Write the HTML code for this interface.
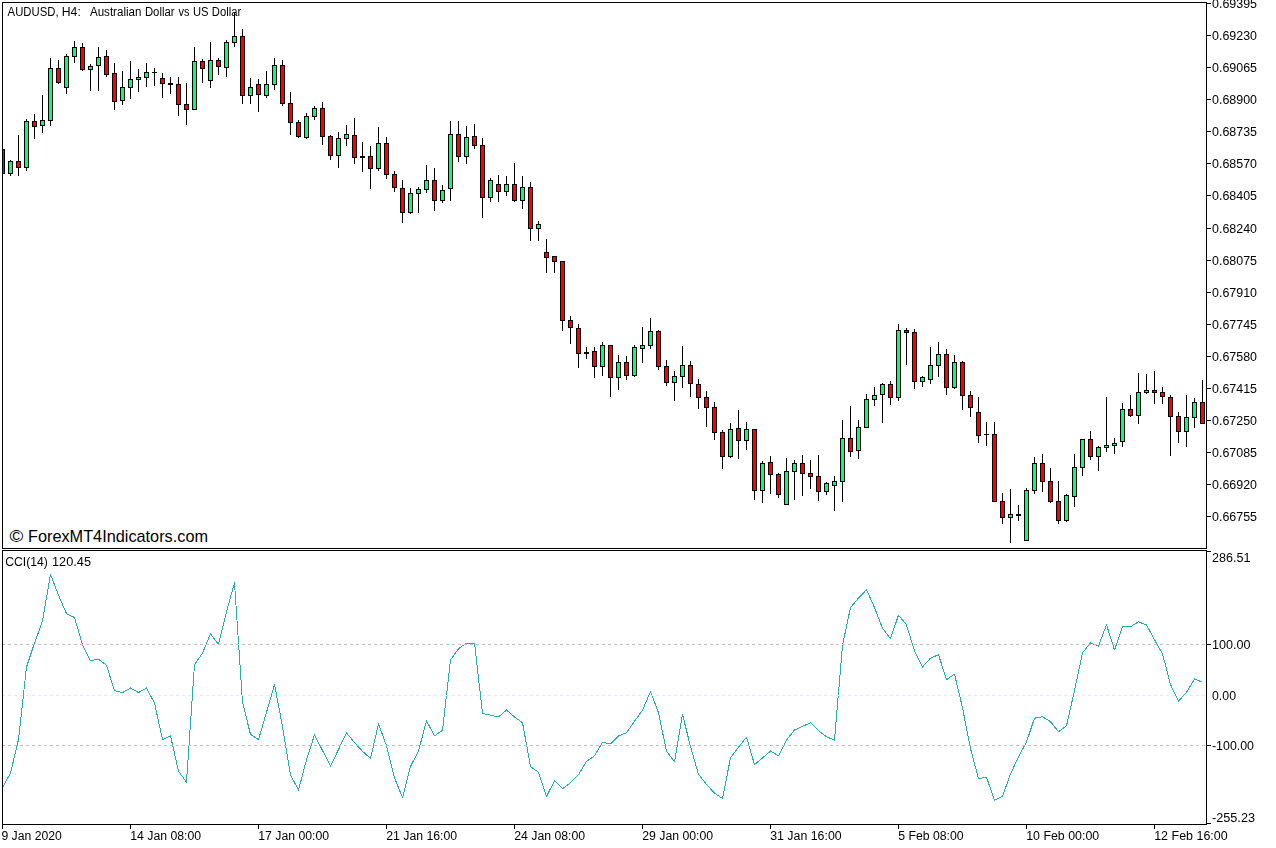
<!DOCTYPE html>
<html><head><meta charset="utf-8"><title>AUDUSD H4 - CCI</title>
<style>
html,body{margin:0;padding:0;background:#fff;overflow:hidden;}
svg{display:block;}
text{font-family:"Liberation Sans",Arial,sans-serif;fill:#000;}
.t{font-size:12px;}
.w{font-size:16.4px;}
</style></head><body>
<svg width="1276" height="848" viewBox="0 0 1276 848">
<rect width="1276" height="848" fill="#fff"/>
<g shape-rendering="crispEdges">
<rect x="2" y="149" width="1" height="24" fill="#000"/><rect x="0" y="149" width="5" height="25" fill="#000"/><rect x="1" y="150" width="3" height="23" fill="#ff0000"/>
<rect x="10" y="160" width="1" height="16" fill="#000"/><rect x="8" y="161" width="5" height="13" fill="#000"/><rect x="9" y="162" width="3" height="11" fill="#00ff7f"/>
<rect x="18" y="135" width="1" height="41" fill="#000"/><rect x="16" y="161" width="5" height="7" fill="#000"/><rect x="17" y="162" width="3" height="5" fill="#ff0000"/>
<rect x="26" y="119" width="1" height="52" fill="#000"/><rect x="24" y="121" width="5" height="47" fill="#000"/><rect x="25" y="122" width="3" height="45" fill="#00ff7f"/>
<rect x="34" y="114" width="1" height="25" fill="#000"/><rect x="32" y="121" width="5" height="6" fill="#000"/><rect x="33" y="122" width="3" height="4" fill="#ff0000"/>
<rect x="42" y="95" width="1" height="38" fill="#000"/><rect x="40" y="120" width="5" height="6" fill="#000"/><rect x="41" y="121" width="3" height="4" fill="#00ff7f"/>
<rect x="50" y="58" width="1" height="68" fill="#000"/><rect x="48" y="68" width="5" height="53" fill="#000"/><rect x="49" y="69" width="3" height="51" fill="#00ff7f"/>
<rect x="58" y="60" width="1" height="24" fill="#000"/><rect x="56" y="68" width="5" height="15" fill="#000"/><rect x="57" y="69" width="3" height="13" fill="#ff0000"/>
<rect x="66" y="54" width="1" height="40" fill="#000"/><rect x="64" y="56" width="5" height="32" fill="#000"/><rect x="65" y="57" width="3" height="30" fill="#00ff7f"/>
<rect x="74" y="41" width="1" height="22" fill="#000"/><rect x="72" y="47" width="5" height="10" fill="#000"/><rect x="73" y="48" width="3" height="8" fill="#00ff7f"/>
<rect x="82" y="43" width="1" height="28" fill="#000"/><rect x="80" y="47" width="5" height="23" fill="#000"/><rect x="81" y="48" width="3" height="21" fill="#ff0000"/>
<rect x="90" y="64" width="1" height="27" fill="#000"/><rect x="88" y="66" width="5" height="4" fill="#000"/><rect x="89" y="67" width="3" height="2" fill="#00ff7f"/>
<rect x="98" y="47" width="1" height="44" fill="#000"/><rect x="96" y="57" width="5" height="9" fill="#000"/><rect x="97" y="58" width="3" height="7" fill="#00ff7f"/>
<rect x="106" y="50" width="1" height="27" fill="#000"/><rect x="104" y="56" width="5" height="19" fill="#000"/><rect x="105" y="57" width="3" height="17" fill="#ff0000"/>
<rect x="114" y="63" width="1" height="47" fill="#000"/><rect x="112" y="73" width="5" height="29" fill="#000"/><rect x="113" y="74" width="3" height="27" fill="#ff0000"/>
<rect x="122" y="71" width="1" height="34" fill="#000"/><rect x="120" y="87" width="5" height="14" fill="#000"/><rect x="121" y="88" width="3" height="12" fill="#00ff7f"/>
<rect x="130" y="61" width="1" height="38" fill="#000"/><rect x="128" y="79" width="5" height="9" fill="#000"/><rect x="129" y="80" width="3" height="7" fill="#00ff7f"/>
<rect x="138" y="69" width="1" height="23" fill="#000"/><rect x="136" y="77" width="5" height="3" fill="#000"/><rect x="137" y="78" width="3" height="1" fill="#00ff7f"/>
<rect x="146" y="63" width="1" height="24" fill="#000"/><rect x="144" y="72" width="5" height="6" fill="#000"/><rect x="145" y="73" width="3" height="4" fill="#00ff7f"/>
<rect x="154" y="68" width="1" height="18" fill="#000"/><rect x="152" y="72" width="5" height="1" fill="#000"/>
<rect x="162" y="73" width="1" height="25" fill="#000"/><rect x="160" y="78" width="5" height="6" fill="#000"/><rect x="161" y="79" width="3" height="4" fill="#ff0000"/>
<rect x="170" y="77" width="1" height="17" fill="#000"/><rect x="168" y="83" width="5" height="2" fill="#000"/>
<rect x="178" y="77" width="1" height="39" fill="#000"/><rect x="176" y="84" width="5" height="21" fill="#000"/><rect x="177" y="85" width="3" height="19" fill="#ff0000"/>
<rect x="186" y="83" width="1" height="42" fill="#000"/><rect x="184" y="104" width="5" height="6" fill="#000"/><rect x="185" y="105" width="3" height="4" fill="#ff0000"/>
<rect x="194" y="47" width="1" height="63" fill="#000"/><rect x="192" y="61" width="5" height="49" fill="#000"/><rect x="193" y="62" width="3" height="47" fill="#00ff7f"/>
<rect x="202" y="59" width="1" height="24" fill="#000"/><rect x="200" y="61" width="5" height="8" fill="#000"/><rect x="201" y="62" width="3" height="6" fill="#ff0000"/>
<rect x="210" y="42" width="1" height="46" fill="#000"/><rect x="208" y="60" width="5" height="21" fill="#000"/><rect x="209" y="61" width="3" height="19" fill="#00ff7f"/>
<rect x="218" y="58" width="1" height="17" fill="#000"/><rect x="216" y="60" width="5" height="7" fill="#000"/><rect x="217" y="61" width="3" height="5" fill="#ff0000"/>
<rect x="226" y="40" width="1" height="37" fill="#000"/><rect x="224" y="42" width="5" height="26" fill="#000"/><rect x="225" y="43" width="3" height="24" fill="#00ff7f"/>
<rect x="234" y="12" width="1" height="35" fill="#000"/><rect x="232" y="36" width="5" height="7" fill="#000"/><rect x="233" y="37" width="3" height="5" fill="#00ff7f"/>
<rect x="242" y="29" width="1" height="75" fill="#000"/><rect x="240" y="36" width="5" height="60" fill="#000"/><rect x="241" y="37" width="3" height="58" fill="#ff0000"/>
<rect x="250" y="78" width="1" height="26" fill="#000"/><rect x="248" y="87" width="5" height="9" fill="#000"/><rect x="249" y="88" width="3" height="7" fill="#00ff7f"/>
<rect x="258" y="79" width="1" height="33" fill="#000"/><rect x="256" y="84" width="5" height="11" fill="#000"/><rect x="257" y="85" width="3" height="9" fill="#ff0000"/>
<rect x="266" y="71" width="1" height="27" fill="#000"/><rect x="264" y="84" width="5" height="12" fill="#000"/><rect x="265" y="85" width="3" height="10" fill="#00ff7f"/>
<rect x="274" y="58" width="1" height="32" fill="#000"/><rect x="272" y="65" width="5" height="20" fill="#000"/><rect x="273" y="66" width="3" height="18" fill="#00ff7f"/>
<rect x="282" y="60" width="1" height="46" fill="#000"/><rect x="280" y="65" width="5" height="39" fill="#000"/><rect x="281" y="66" width="3" height="37" fill="#ff0000"/>
<rect x="290" y="92" width="1" height="43" fill="#000"/><rect x="288" y="103" width="5" height="20" fill="#000"/><rect x="289" y="104" width="3" height="18" fill="#ff0000"/>
<rect x="298" y="120" width="1" height="18" fill="#000"/><rect x="296" y="122" width="5" height="15" fill="#000"/><rect x="297" y="123" width="3" height="13" fill="#ff0000"/>
<rect x="306" y="113" width="1" height="26" fill="#000"/><rect x="304" y="116" width="5" height="22" fill="#000"/><rect x="305" y="117" width="3" height="20" fill="#00ff7f"/>
<rect x="314" y="106" width="1" height="14" fill="#000"/><rect x="312" y="108" width="5" height="9" fill="#000"/><rect x="313" y="109" width="3" height="7" fill="#00ff7f"/>
<rect x="322" y="102" width="1" height="43" fill="#000"/><rect x="320" y="108" width="5" height="29" fill="#000"/><rect x="321" y="109" width="3" height="27" fill="#ff0000"/>
<rect x="330" y="135" width="1" height="25" fill="#000"/><rect x="328" y="136" width="5" height="20" fill="#000"/><rect x="329" y="137" width="3" height="18" fill="#ff0000"/>
<rect x="338" y="132" width="1" height="36" fill="#000"/><rect x="336" y="138" width="5" height="18" fill="#000"/><rect x="337" y="139" width="3" height="16" fill="#00ff7f"/>
<rect x="346" y="125" width="1" height="21" fill="#000"/><rect x="344" y="134" width="5" height="5" fill="#000"/><rect x="345" y="135" width="3" height="3" fill="#00ff7f"/>
<rect x="354" y="118" width="1" height="46" fill="#000"/><rect x="352" y="135" width="5" height="23" fill="#000"/><rect x="353" y="136" width="3" height="21" fill="#ff0000"/>
<rect x="362" y="142" width="1" height="30" fill="#000"/><rect x="360" y="156" width="5" height="2" fill="#000"/>
<rect x="370" y="146" width="1" height="43" fill="#000"/><rect x="368" y="156" width="5" height="13" fill="#000"/><rect x="369" y="157" width="3" height="11" fill="#ff0000"/>
<rect x="378" y="127" width="1" height="44" fill="#000"/><rect x="376" y="143" width="5" height="26" fill="#000"/><rect x="377" y="144" width="3" height="24" fill="#00ff7f"/>
<rect x="386" y="137" width="1" height="42" fill="#000"/><rect x="384" y="143" width="5" height="32" fill="#000"/><rect x="385" y="144" width="3" height="30" fill="#ff0000"/>
<rect x="394" y="171" width="1" height="21" fill="#000"/><rect x="392" y="174" width="5" height="14" fill="#000"/><rect x="393" y="175" width="3" height="12" fill="#ff0000"/>
<rect x="402" y="180" width="1" height="43" fill="#000"/><rect x="400" y="188" width="5" height="25" fill="#000"/><rect x="401" y="189" width="3" height="23" fill="#ff0000"/>
<rect x="410" y="188" width="1" height="26" fill="#000"/><rect x="408" y="193" width="5" height="20" fill="#000"/><rect x="409" y="194" width="3" height="18" fill="#00ff7f"/>
<rect x="418" y="187" width="1" height="26" fill="#000"/><rect x="416" y="189" width="5" height="5" fill="#000"/><rect x="417" y="190" width="3" height="3" fill="#00ff7f"/>
<rect x="426" y="165" width="1" height="28" fill="#000"/><rect x="424" y="180" width="5" height="10" fill="#000"/><rect x="425" y="181" width="3" height="8" fill="#00ff7f"/>
<rect x="434" y="168" width="1" height="43" fill="#000"/><rect x="432" y="180" width="5" height="21" fill="#000"/><rect x="433" y="181" width="3" height="19" fill="#ff0000"/>
<rect x="442" y="185" width="1" height="18" fill="#000"/><rect x="440" y="190" width="5" height="11" fill="#000"/><rect x="441" y="191" width="3" height="9" fill="#00ff7f"/>
<rect x="450" y="121" width="1" height="80" fill="#000"/><rect x="448" y="134" width="5" height="55" fill="#000"/><rect x="449" y="135" width="3" height="53" fill="#00ff7f"/>
<rect x="458" y="121" width="1" height="41" fill="#000"/><rect x="456" y="134" width="5" height="23" fill="#000"/><rect x="457" y="135" width="3" height="21" fill="#ff0000"/>
<rect x="466" y="126" width="1" height="38" fill="#000"/><rect x="464" y="137" width="5" height="20" fill="#000"/><rect x="465" y="138" width="3" height="18" fill="#00ff7f"/>
<rect x="474" y="124" width="1" height="25" fill="#000"/><rect x="472" y="136" width="5" height="10" fill="#000"/><rect x="473" y="137" width="3" height="8" fill="#ff0000"/>
<rect x="482" y="138" width="1" height="80" fill="#000"/><rect x="480" y="145" width="5" height="53" fill="#000"/><rect x="481" y="146" width="3" height="51" fill="#ff0000"/>
<rect x="490" y="178" width="1" height="24" fill="#000"/><rect x="488" y="180" width="5" height="18" fill="#000"/><rect x="489" y="181" width="3" height="16" fill="#00ff7f"/>
<rect x="498" y="175" width="1" height="27" fill="#000"/><rect x="496" y="184" width="5" height="8" fill="#000"/><rect x="497" y="185" width="3" height="6" fill="#ff0000"/>
<rect x="506" y="176" width="1" height="20" fill="#000"/><rect x="504" y="184" width="5" height="8" fill="#000"/><rect x="505" y="185" width="3" height="6" fill="#00ff7f"/>
<rect x="514" y="163" width="1" height="39" fill="#000"/><rect x="512" y="184" width="5" height="17" fill="#000"/><rect x="513" y="185" width="3" height="15" fill="#ff0000"/>
<rect x="522" y="176" width="1" height="33" fill="#000"/><rect x="520" y="187" width="5" height="14" fill="#000"/><rect x="521" y="188" width="3" height="12" fill="#00ff7f"/>
<rect x="530" y="182" width="1" height="59" fill="#000"/><rect x="528" y="187" width="5" height="42" fill="#000"/><rect x="529" y="188" width="3" height="40" fill="#ff0000"/>
<rect x="538" y="221" width="1" height="20" fill="#000"/><rect x="536" y="224" width="5" height="5" fill="#000"/><rect x="537" y="225" width="3" height="3" fill="#00ff7f"/>
<rect x="546" y="239" width="1" height="34" fill="#000"/><rect x="544" y="252" width="5" height="6" fill="#000"/><rect x="545" y="253" width="3" height="4" fill="#ff0000"/>
<rect x="554" y="256" width="1" height="17" fill="#000"/><rect x="552" y="256" width="5" height="6" fill="#000"/><rect x="553" y="257" width="3" height="4" fill="#ff0000"/>
<rect x="562" y="261" width="1" height="70" fill="#000"/><rect x="560" y="261" width="5" height="60" fill="#000"/><rect x="561" y="262" width="3" height="58" fill="#ff0000"/>
<rect x="570" y="316" width="1" height="28" fill="#000"/><rect x="568" y="320" width="5" height="8" fill="#000"/><rect x="569" y="321" width="3" height="6" fill="#ff0000"/>
<rect x="578" y="324" width="1" height="44" fill="#000"/><rect x="576" y="328" width="5" height="26" fill="#000"/><rect x="577" y="329" width="3" height="24" fill="#ff0000"/>
<rect x="586" y="347" width="1" height="12" fill="#000"/><rect x="584" y="352" width="5" height="2" fill="#000"/>
<rect x="594" y="347" width="1" height="31" fill="#000"/><rect x="592" y="351" width="5" height="16" fill="#000"/><rect x="593" y="352" width="3" height="14" fill="#ff0000"/>
<rect x="602" y="342" width="1" height="34" fill="#000"/><rect x="600" y="345" width="5" height="22" fill="#000"/><rect x="601" y="346" width="3" height="20" fill="#00ff7f"/>
<rect x="610" y="345" width="1" height="52" fill="#000"/><rect x="608" y="345" width="5" height="33" fill="#000"/><rect x="609" y="346" width="3" height="31" fill="#ff0000"/>
<rect x="618" y="355" width="1" height="35" fill="#000"/><rect x="616" y="362" width="5" height="16" fill="#000"/><rect x="617" y="363" width="3" height="14" fill="#00ff7f"/>
<rect x="626" y="356" width="1" height="24" fill="#000"/><rect x="624" y="362" width="5" height="14" fill="#000"/><rect x="625" y="363" width="3" height="12" fill="#ff0000"/>
<rect x="634" y="345" width="1" height="32" fill="#000"/><rect x="632" y="347" width="5" height="29" fill="#000"/><rect x="633" y="348" width="3" height="27" fill="#00ff7f"/>
<rect x="642" y="327" width="1" height="36" fill="#000"/><rect x="640" y="345" width="5" height="4" fill="#000"/><rect x="641" y="346" width="3" height="2" fill="#00ff7f"/>
<rect x="650" y="318" width="1" height="31" fill="#000"/><rect x="648" y="331" width="5" height="15" fill="#000"/><rect x="649" y="332" width="3" height="13" fill="#00ff7f"/>
<rect x="658" y="330" width="1" height="40" fill="#000"/><rect x="656" y="331" width="5" height="36" fill="#000"/><rect x="657" y="332" width="3" height="34" fill="#ff0000"/>
<rect x="666" y="360" width="1" height="26" fill="#000"/><rect x="664" y="366" width="5" height="17" fill="#000"/><rect x="665" y="367" width="3" height="15" fill="#ff0000"/>
<rect x="674" y="371" width="1" height="30" fill="#000"/><rect x="672" y="376" width="5" height="7" fill="#000"/><rect x="673" y="377" width="3" height="5" fill="#00ff7f"/>
<rect x="682" y="346" width="1" height="42" fill="#000"/><rect x="680" y="365" width="5" height="12" fill="#000"/><rect x="681" y="366" width="3" height="10" fill="#00ff7f"/>
<rect x="690" y="361" width="1" height="36" fill="#000"/><rect x="688" y="365" width="5" height="19" fill="#000"/><rect x="689" y="366" width="3" height="17" fill="#ff0000"/>
<rect x="698" y="379" width="1" height="30" fill="#000"/><rect x="696" y="384" width="5" height="14" fill="#000"/><rect x="697" y="385" width="3" height="12" fill="#ff0000"/>
<rect x="706" y="391" width="1" height="36" fill="#000"/><rect x="704" y="397" width="5" height="11" fill="#000"/><rect x="705" y="398" width="3" height="9" fill="#ff0000"/>
<rect x="714" y="402" width="1" height="38" fill="#000"/><rect x="712" y="407" width="5" height="26" fill="#000"/><rect x="713" y="408" width="3" height="24" fill="#ff0000"/>
<rect x="722" y="430" width="1" height="39" fill="#000"/><rect x="720" y="432" width="5" height="25" fill="#000"/><rect x="721" y="433" width="3" height="23" fill="#ff0000"/>
<rect x="730" y="423" width="1" height="35" fill="#000"/><rect x="728" y="429" width="5" height="28" fill="#000"/><rect x="729" y="430" width="3" height="26" fill="#00ff7f"/>
<rect x="738" y="410" width="1" height="49" fill="#000"/><rect x="736" y="428" width="5" height="13" fill="#000"/><rect x="737" y="429" width="3" height="11" fill="#ff0000"/>
<rect x="746" y="422" width="1" height="28" fill="#000"/><rect x="744" y="429" width="5" height="12" fill="#000"/><rect x="745" y="430" width="3" height="10" fill="#00ff7f"/>
<rect x="754" y="429" width="1" height="71" fill="#000"/><rect x="752" y="429" width="5" height="62" fill="#000"/><rect x="753" y="430" width="3" height="60" fill="#ff0000"/>
<rect x="762" y="461" width="1" height="42" fill="#000"/><rect x="760" y="463" width="5" height="28" fill="#000"/><rect x="761" y="464" width="3" height="26" fill="#00ff7f"/>
<rect x="770" y="456" width="1" height="38" fill="#000"/><rect x="768" y="462" width="5" height="13" fill="#000"/><rect x="769" y="463" width="3" height="11" fill="#ff0000"/>
<rect x="778" y="473" width="1" height="25" fill="#000"/><rect x="776" y="474" width="5" height="21" fill="#000"/><rect x="777" y="475" width="3" height="19" fill="#ff0000"/>
<rect x="786" y="458" width="1" height="47" fill="#000"/><rect x="784" y="471" width="5" height="34" fill="#000"/><rect x="785" y="472" width="3" height="32" fill="#00ff7f"/>
<rect x="794" y="460" width="1" height="40" fill="#000"/><rect x="792" y="463" width="5" height="9" fill="#000"/><rect x="793" y="464" width="3" height="7" fill="#00ff7f"/>
<rect x="802" y="455" width="1" height="41" fill="#000"/><rect x="800" y="463" width="5" height="11" fill="#000"/><rect x="801" y="464" width="3" height="9" fill="#ff0000"/>
<rect x="810" y="460" width="1" height="29" fill="#000"/><rect x="808" y="473" width="5" height="4" fill="#000"/><rect x="809" y="474" width="3" height="2" fill="#ff0000"/>
<rect x="818" y="455" width="1" height="46" fill="#000"/><rect x="816" y="476" width="5" height="16" fill="#000"/><rect x="817" y="477" width="3" height="14" fill="#ff0000"/>
<rect x="826" y="482" width="1" height="13" fill="#000"/><rect x="824" y="483" width="5" height="9" fill="#000"/><rect x="825" y="484" width="3" height="7" fill="#00ff7f"/>
<rect x="834" y="476" width="1" height="35" fill="#000"/><rect x="832" y="481" width="5" height="5" fill="#000"/><rect x="833" y="482" width="3" height="3" fill="#00ff7f"/>
<rect x="842" y="420" width="1" height="82" fill="#000"/><rect x="840" y="438" width="5" height="44" fill="#000"/><rect x="841" y="439" width="3" height="42" fill="#00ff7f"/>
<rect x="850" y="406" width="1" height="51" fill="#000"/><rect x="848" y="438" width="5" height="14" fill="#000"/><rect x="849" y="439" width="3" height="12" fill="#ff0000"/>
<rect x="858" y="420" width="1" height="39" fill="#000"/><rect x="856" y="427" width="5" height="24" fill="#000"/><rect x="857" y="428" width="3" height="22" fill="#00ff7f"/>
<rect x="866" y="394" width="1" height="34" fill="#000"/><rect x="864" y="399" width="5" height="29" fill="#000"/><rect x="865" y="400" width="3" height="27" fill="#00ff7f"/>
<rect x="874" y="387" width="1" height="19" fill="#000"/><rect x="872" y="395" width="5" height="5" fill="#000"/><rect x="873" y="396" width="3" height="3" fill="#00ff7f"/>
<rect x="882" y="383" width="1" height="40" fill="#000"/><rect x="880" y="384" width="5" height="11" fill="#000"/><rect x="881" y="385" width="3" height="9" fill="#00ff7f"/>
<rect x="890" y="381" width="1" height="24" fill="#000"/><rect x="888" y="384" width="5" height="14" fill="#000"/><rect x="889" y="385" width="3" height="12" fill="#ff0000"/>
<rect x="898" y="324" width="1" height="77" fill="#000"/><rect x="896" y="330" width="5" height="68" fill="#000"/><rect x="897" y="331" width="3" height="66" fill="#00ff7f"/>
<rect x="906" y="328" width="1" height="37" fill="#000"/><rect x="904" y="330" width="5" height="3" fill="#000"/><rect x="905" y="331" width="3" height="1" fill="#ff0000"/>
<rect x="914" y="329" width="1" height="60" fill="#000"/><rect x="912" y="332" width="5" height="50" fill="#000"/><rect x="913" y="333" width="3" height="48" fill="#ff0000"/>
<rect x="922" y="376" width="1" height="11" fill="#000"/><rect x="920" y="377" width="5" height="5" fill="#000"/><rect x="921" y="378" width="3" height="3" fill="#00ff7f"/>
<rect x="930" y="347" width="1" height="37" fill="#000"/><rect x="928" y="365" width="5" height="15" fill="#000"/><rect x="929" y="366" width="3" height="13" fill="#00ff7f"/>
<rect x="938" y="342" width="1" height="35" fill="#000"/><rect x="936" y="354" width="5" height="12" fill="#000"/><rect x="937" y="355" width="3" height="10" fill="#00ff7f"/>
<rect x="946" y="349" width="1" height="46" fill="#000"/><rect x="944" y="354" width="5" height="34" fill="#000"/><rect x="945" y="355" width="3" height="32" fill="#ff0000"/>
<rect x="954" y="355" width="1" height="34" fill="#000"/><rect x="952" y="362" width="5" height="26" fill="#000"/><rect x="953" y="363" width="3" height="24" fill="#00ff7f"/>
<rect x="962" y="361" width="1" height="49" fill="#000"/><rect x="960" y="362" width="5" height="34" fill="#000"/><rect x="961" y="363" width="3" height="32" fill="#ff0000"/>
<rect x="970" y="391" width="1" height="26" fill="#000"/><rect x="968" y="395" width="5" height="13" fill="#000"/><rect x="969" y="396" width="3" height="11" fill="#ff0000"/>
<rect x="978" y="397" width="1" height="46" fill="#000"/><rect x="976" y="412" width="5" height="24" fill="#000"/><rect x="977" y="413" width="3" height="22" fill="#ff0000"/>
<rect x="986" y="422" width="1" height="24" fill="#000"/><rect x="984" y="434" width="5" height="1" fill="#000"/>
<rect x="994" y="422" width="1" height="80" fill="#000"/><rect x="992" y="434" width="5" height="68" fill="#000"/><rect x="993" y="435" width="3" height="66" fill="#ff0000"/>
<rect x="1002" y="493" width="1" height="31" fill="#000"/><rect x="1000" y="501" width="5" height="17" fill="#000"/><rect x="1001" y="502" width="3" height="15" fill="#ff0000"/>
<rect x="1010" y="489" width="1" height="54" fill="#000"/><rect x="1008" y="514" width="5" height="4" fill="#000"/><rect x="1009" y="515" width="3" height="2" fill="#00ff7f"/>
<rect x="1018" y="505" width="1" height="16" fill="#000"/><rect x="1016" y="514" width="5" height="2" fill="#000"/>
<rect x="1026" y="488" width="1" height="53" fill="#000"/><rect x="1024" y="490" width="5" height="51" fill="#000"/><rect x="1025" y="491" width="3" height="49" fill="#00ff7f"/>
<rect x="1034" y="457" width="1" height="37" fill="#000"/><rect x="1032" y="463" width="5" height="28" fill="#000"/><rect x="1033" y="464" width="3" height="26" fill="#00ff7f"/>
<rect x="1042" y="454" width="1" height="38" fill="#000"/><rect x="1040" y="463" width="5" height="19" fill="#000"/><rect x="1041" y="464" width="3" height="17" fill="#ff0000"/>
<rect x="1050" y="468" width="1" height="35" fill="#000"/><rect x="1048" y="481" width="5" height="21" fill="#000"/><rect x="1049" y="482" width="3" height="19" fill="#ff0000"/>
<rect x="1058" y="481" width="1" height="43" fill="#000"/><rect x="1056" y="501" width="5" height="20" fill="#000"/><rect x="1057" y="502" width="3" height="18" fill="#ff0000"/>
<rect x="1066" y="494" width="1" height="28" fill="#000"/><rect x="1064" y="495" width="5" height="26" fill="#000"/><rect x="1065" y="496" width="3" height="24" fill="#00ff7f"/>
<rect x="1074" y="454" width="1" height="53" fill="#000"/><rect x="1072" y="467" width="5" height="30" fill="#000"/><rect x="1073" y="468" width="3" height="28" fill="#00ff7f"/>
<rect x="1082" y="439" width="1" height="37" fill="#000"/><rect x="1080" y="439" width="5" height="29" fill="#000"/><rect x="1081" y="440" width="3" height="27" fill="#00ff7f"/>
<rect x="1090" y="431" width="1" height="29" fill="#000"/><rect x="1088" y="439" width="5" height="18" fill="#000"/><rect x="1089" y="440" width="3" height="16" fill="#ff0000"/>
<rect x="1098" y="446" width="1" height="25" fill="#000"/><rect x="1096" y="447" width="5" height="10" fill="#000"/><rect x="1097" y="448" width="3" height="8" fill="#00ff7f"/>
<rect x="1106" y="397" width="1" height="55" fill="#000"/><rect x="1104" y="445" width="5" height="3" fill="#000"/><rect x="1105" y="446" width="3" height="1" fill="#00ff7f"/>
<rect x="1114" y="438" width="1" height="16" fill="#000"/><rect x="1112" y="443" width="5" height="3" fill="#000"/><rect x="1113" y="444" width="3" height="1" fill="#00ff7f"/>
<rect x="1122" y="403" width="1" height="44" fill="#000"/><rect x="1120" y="409" width="5" height="33" fill="#000"/><rect x="1121" y="410" width="3" height="31" fill="#00ff7f"/>
<rect x="1130" y="395" width="1" height="22" fill="#000"/><rect x="1128" y="409" width="5" height="7" fill="#000"/><rect x="1129" y="410" width="3" height="5" fill="#ff0000"/>
<rect x="1138" y="373" width="1" height="51" fill="#000"/><rect x="1136" y="392" width="5" height="24" fill="#000"/><rect x="1137" y="393" width="3" height="22" fill="#00ff7f"/>
<rect x="1146" y="374" width="1" height="20" fill="#000"/><rect x="1144" y="390" width="5" height="3" fill="#000"/><rect x="1145" y="391" width="3" height="1" fill="#00ff7f"/>
<rect x="1154" y="371" width="1" height="33" fill="#000"/><rect x="1152" y="390" width="5" height="3" fill="#000"/><rect x="1153" y="391" width="3" height="1" fill="#ff0000"/>
<rect x="1162" y="387" width="1" height="17" fill="#000"/><rect x="1160" y="392" width="5" height="5" fill="#000"/><rect x="1161" y="393" width="3" height="3" fill="#ff0000"/>
<rect x="1170" y="395" width="1" height="61" fill="#000"/><rect x="1168" y="397" width="5" height="20" fill="#000"/><rect x="1169" y="398" width="3" height="18" fill="#ff0000"/>
<rect x="1178" y="412" width="1" height="31" fill="#000"/><rect x="1176" y="416" width="5" height="16" fill="#000"/><rect x="1177" y="417" width="3" height="14" fill="#ff0000"/>
<rect x="1186" y="395" width="1" height="52" fill="#000"/><rect x="1184" y="417" width="5" height="15" fill="#000"/><rect x="1185" y="418" width="3" height="13" fill="#00ff7f"/>
<rect x="1194" y="398" width="1" height="30" fill="#000"/><rect x="1192" y="402" width="5" height="16" fill="#000"/><rect x="1193" y="403" width="3" height="14" fill="#00ff7f"/>
<rect x="1202" y="380" width="1" height="44" fill="#000"/><rect x="1200" y="402" width="5" height="22" fill="#000"/><rect x="1201" y="403" width="3" height="20" fill="#ff0000"/>
</g>
<rect x="0" y="0" width="2" height="848" fill="#fff"/>
<polyline points="2.5,787.5 10.5,773.0 18.5,739.5 26.5,667.0 34.5,643.1 42.5,621.0 50.5,574.3 58.5,595.2 66.5,613.7 74.5,617.5 82.5,644.7 90.5,660.8 98.5,659.1 106.5,665.4 114.5,690.6 122.5,692.6 130.5,688.0 138.5,692.6 146.5,688.0 154.5,703.1 162.5,739.6 170.5,735.8 178.5,771.3 186.5,782.0 194.5,664.5 202.5,653.2 210.5,633.8 218.5,644.4 226.5,611.7 234.5,582.9 242.5,702.3 250.5,734.4 258.5,739.7 266.5,712.3 274.5,684.5 282.5,726.5 290.5,774.9 298.5,790.0 306.5,759.8 314.5,734.9 322.5,750.4 330.5,766.1 338.5,749.5 346.5,732.9 354.5,742.5 362.5,751.3 370.5,758.5 378.5,724.0 386.5,745.7 394.5,777.8 402.5,797.6 410.5,766.5 418.5,751.0 426.5,720.8 434.5,735.9 442.5,730.2 450.5,660.0 458.5,648.7 466.5,643.0 474.5,643.0 482.5,713.4 490.5,715.1 498.5,717.0 506.5,710.0 514.5,717.0 522.5,722.7 530.5,766.6 538.5,772.3 546.5,796.5 554.5,780.8 562.5,788.7 570.5,782.7 578.5,774.7 586.5,761.5 594.5,755.9 602.5,742.1 610.5,744.0 618.5,735.9 626.5,732.7 634.5,721.3 642.5,710.2 650.5,691.5 658.5,712.7 666.5,751.3 674.5,761.7 682.5,714.2 690.5,746.6 698.5,774.4 706.5,784.4 714.5,793.2 722.5,798.5 730.5,758.0 738.5,747.2 746.5,737.2 754.5,764.6 762.5,758.0 770.5,751.0 778.5,755.7 786.5,740.0 794.5,730.0 802.5,726.4 810.5,722.7 818.5,730.6 826.5,736.8 834.5,740.0 842.5,645.3 850.5,607.6 858.5,598.1 866.5,589.7 874.5,607.6 882.5,628.3 890.5,638.7 898.5,615.1 906.5,624.9 914.5,651.0 922.5,667.0 930.5,658.1 938.5,654.7 946.5,679.7 954.5,674.1 962.5,707.8 970.5,748.5 978.5,778.7 986.5,777.2 994.5,800.4 1002.5,796.3 1010.5,774.0 1018.5,757.0 1026.5,741.9 1034.5,718.2 1042.5,716.7 1050.5,721.7 1058.5,731.8 1066.5,725.7 1074.5,690.5 1082.5,652.9 1090.5,642.9 1098.5,646.0 1106.5,624.7 1114.5,650.0 1122.5,626.8 1130.5,626.8 1138.5,621.8 1146.5,625.0 1154.5,639.7 1162.5,653.8 1170.5,684.5 1178.5,701.0 1186.5,692.5 1194.5,678.9 1202.5,682.3" fill="none" stroke="#20b2aa" stroke-width="1" stroke-linejoin="round" shape-rendering="crispEdges"/>
<g shape-rendering="crispEdges" fill="none">
<line x1="2" y1="644.5" x2="1206" y2="644.5" stroke="#c0c0c0" stroke-dasharray="3 3"/>
<line x1="2" y1="745.5" x2="1206" y2="745.5" stroke="#c0c0c0" stroke-dasharray="3 3"/>
<line x1="2" y1="695.5" x2="1206" y2="695.5" stroke="#ece6ee" stroke-dasharray="3 3"/>
</g>
<g shape-rendering="crispEdges" fill="#000">
<rect x="2" y="2" width="1205" height="1"/>
<rect x="2" y="2" width="1" height="823"/>
<rect x="1206" y="2" width="1" height="823"/>
<rect x="2" y="548" width="1205" height="1"/>
<rect x="2" y="549" width="1205" height="1" fill="#fff"/>
<rect x="2" y="550" width="1205" height="1"/>
<rect x="2" y="824" width="1205" height="1"/>
<rect x="1207" y="3" width="4" height="1"/><rect x="1207" y="35" width="4" height="1"/><rect x="1207" y="67" width="4" height="1"/><rect x="1207" y="99" width="4" height="1"/><rect x="1207" y="131" width="4" height="1"/><rect x="1207" y="163" width="4" height="1"/><rect x="1207" y="195" width="4" height="1"/><rect x="1207" y="228" width="4" height="1"/><rect x="1207" y="260" width="4" height="1"/><rect x="1207" y="292" width="4" height="1"/><rect x="1207" y="324" width="4" height="1"/><rect x="1207" y="356" width="4" height="1"/><rect x="1207" y="388" width="4" height="1"/><rect x="1207" y="420" width="4" height="1"/><rect x="1207" y="452" width="4" height="1"/><rect x="1207" y="484" width="4" height="1"/><rect x="1207" y="516" width="4" height="1"/>
<rect x="1207" y="551" width="4" height="1"/><rect x="1207" y="644" width="4" height="1"/><rect x="1207" y="745" width="4" height="1"/><rect x="1207" y="823" width="4" height="1"/>
<rect x="2" y="825" width="1" height="4"/><rect x="130" y="825" width="1" height="4"/><rect x="258" y="825" width="1" height="4"/><rect x="386" y="825" width="1" height="4"/><rect x="514" y="825" width="1" height="4"/><rect x="642" y="825" width="1" height="4"/><rect x="770" y="825" width="1" height="4"/><rect x="898" y="825" width="1" height="4"/><rect x="1026" y="825" width="1" height="4"/><rect x="1154" y="825" width="1" height="4"/>
</g>
<text class="w" x="9.6" y="541.7" textLength="13.8" lengthAdjust="spacingAndGlyphs">©</text><text class="w" x="28" y="541.7" textLength="180" lengthAdjust="spacingAndGlyphs">ForexMT4Indicators.com</text>
<g class="t" style="will-change:transform">
<text x="1212" y="7.5" textLength="45" lengthAdjust="spacingAndGlyphs">0.69395</text>
<text x="1212" y="39.5" textLength="45" lengthAdjust="spacingAndGlyphs">0.69230</text>
<text x="1212" y="71.5" textLength="45" lengthAdjust="spacingAndGlyphs">0.69065</text>
<text x="1212" y="103.5" textLength="45" lengthAdjust="spacingAndGlyphs">0.68900</text>
<text x="1212" y="135.5" textLength="45" lengthAdjust="spacingAndGlyphs">0.68735</text>
<text x="1212" y="167.5" textLength="45" lengthAdjust="spacingAndGlyphs">0.68570</text>
<text x="1212" y="199.5" textLength="45" lengthAdjust="spacingAndGlyphs">0.68405</text>
<text x="1212" y="232.5" textLength="45" lengthAdjust="spacingAndGlyphs">0.68240</text>
<text x="1212" y="264.5" textLength="45" lengthAdjust="spacingAndGlyphs">0.68075</text>
<text x="1212" y="296.5" textLength="45" lengthAdjust="spacingAndGlyphs">0.67910</text>
<text x="1212" y="328.5" textLength="45" lengthAdjust="spacingAndGlyphs">0.67745</text>
<text x="1212" y="360.5" textLength="45" lengthAdjust="spacingAndGlyphs">0.67580</text>
<text x="1212" y="392.5" textLength="45" lengthAdjust="spacingAndGlyphs">0.67415</text>
<text x="1212" y="424.5" textLength="45" lengthAdjust="spacingAndGlyphs">0.67250</text>
<text x="1212" y="456.5" textLength="45" lengthAdjust="spacingAndGlyphs">0.67085</text>
<text x="1212" y="488.5" textLength="45" lengthAdjust="spacingAndGlyphs">0.66920</text>
<text x="1212" y="520.5" textLength="45" lengthAdjust="spacingAndGlyphs">0.66755</text>
<text x="1212" y="562" textLength="38.5" lengthAdjust="spacingAndGlyphs">286.51</text>
<text x="1212" y="649" textLength="38.5" lengthAdjust="spacingAndGlyphs">100.00</text>
<text x="1212" y="700" textLength="24" lengthAdjust="spacingAndGlyphs">0.00</text>
<text x="1212" y="750" textLength="42" lengthAdjust="spacingAndGlyphs">-100.00</text>
<text x="1212" y="822" textLength="43" lengthAdjust="spacingAndGlyphs">-255.23</text>
<text x="7.6" y="16" textLength="51" lengthAdjust="spacingAndGlyphs">AUDUSD,</text><text x="61.8" y="16" textLength="19" lengthAdjust="spacingAndGlyphs">H4:</text><text x="89.9" y="16" textLength="51.6" lengthAdjust="spacingAndGlyphs">Australian</text><text x="144.9" y="16" textLength="29.6" lengthAdjust="spacingAndGlyphs">Dollar</text><text x="178.6" y="16" textLength="11" lengthAdjust="spacingAndGlyphs">vs</text><text x="192.9" y="16" textLength="15.6" lengthAdjust="spacingAndGlyphs">US</text><text x="211.8" y="16" textLength="29.4" lengthAdjust="spacingAndGlyphs">Dollar</text>
<text x="5.2" y="566" textLength="42.6" lengthAdjust="spacingAndGlyphs">CCI(14)</text><text x="52" y="566" textLength="39" lengthAdjust="spacingAndGlyphs">120.45</text>
<text x="1.4" y="840" textLength="60.5" lengthAdjust="spacingAndGlyphs">9 Jan 2020</text>
<text x="130.2" y="840" textLength="71" lengthAdjust="spacingAndGlyphs">14 Jan 08:00</text>
<text x="258.2" y="840" textLength="71" lengthAdjust="spacingAndGlyphs">17 Jan 00:00</text>
<text x="386.2" y="840" textLength="71" lengthAdjust="spacingAndGlyphs">21 Jan 16:00</text>
<text x="514.2" y="840" textLength="71" lengthAdjust="spacingAndGlyphs">24 Jan 08:00</text>
<text x="642.2" y="840" textLength="71" lengthAdjust="spacingAndGlyphs">29 Jan 00:00</text>
<text x="770.2" y="840" textLength="71.5" lengthAdjust="spacingAndGlyphs">31 Jan 16:00</text>
<text x="898.2" y="840" textLength="65.5" lengthAdjust="spacingAndGlyphs">5 Feb 08:00</text>
<text x="1026.2" y="840" textLength="73" lengthAdjust="spacingAndGlyphs">10 Feb 00:00</text>
<text x="1154.2" y="840" textLength="73.5" lengthAdjust="spacingAndGlyphs">12 Feb 16:00</text>
</g>
</svg>
</body></html>
